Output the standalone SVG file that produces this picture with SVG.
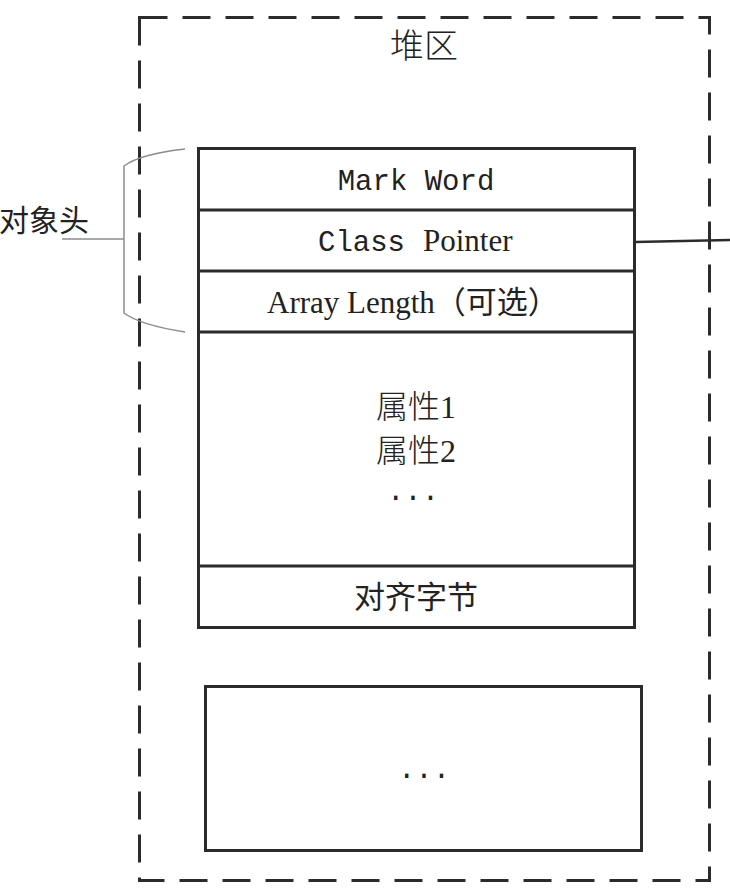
<svg xmlns="http://www.w3.org/2000/svg" width="730" height="896" viewBox="0 0 730 896">
<style>
.box{fill:#fff;stroke:#2b2b2b;stroke-width:3}
.div{stroke:#2b2b2b;stroke-width:3}
.heap{fill:none;stroke:#2b2b2b;stroke-width:3;stroke-dasharray:28 15}
.brace{fill:none;stroke:#8c8c8c;stroke-width:1.5}
.t{fill:#222;text-anchor:middle}
.mono{font-family:"Liberation Mono","Noto Sans CJK SC",monospace;font-size:29px}
.serif{font-family:"Liberation Serif","Noto Sans CJK SC",serif;font-size:31px}
.cjk{font-family:"Noto Sans CJK SC",sans-serif;font-size:31px}
.cjkl{font-family:"Liberation Serif","Noto Sans CJK SC",serif;font-size:32px;font-weight:300}
</style>
<rect width="730" height="896" fill="#fff"/>
<g id="heap">
<rect class="heap" x="139.5" y="17.5" width="570" height="863"/>
<text class="t cjkl" x="424" y="58" style="font-size:34px">堆区</text>
</g>
<g id="object">
<rect class="box" x="198.5" y="148.5" width="436" height="479"/>
<line class="div" x1="198" y1="210" x2="635" y2="210"/>
<line class="div" x1="198" y1="271" x2="635" y2="271"/>
<line class="div" x1="198" y1="332" x2="635" y2="332"/>
<line class="div" x1="198" y1="566" x2="635" y2="566"/>
</g>
<g id="mark-word"><text class="t mono" x="416" y="190">Mark Word</text></g>
<g id="class-pointer"><text x="318" y="251" style="fill:#222"><tspan class="mono">Class</tspan><tspan class="serif" x="423">Pointer</tspan></text></g>
<g id="array-length"><text class="serif" x="267" y="313" style="fill:#222">Array Length（可选）</text></g>
<g id="fields">
<text class="t cjkl" x="416" y="418">属性1</text>
<text class="t cjkl" x="416" y="462">属性2</text>
<text class="t mono" x="413" y="500">...</text>
</g>
<g id="padding"><text class="t cjk" x="416" y="608">对齐字节</text></g>
<g id="other-object">
<rect class="box" x="205.5" y="686.5" width="436" height="164"/>
<text class="t mono" x="424" y="778">...</text>
</g>
<g id="object-header-label">
<text class="cjk" x="-1" y="231" style="fill:#222;font-size:30px">对象头</text>
</g>
<g id="connectors">
<path class="brace" d="M185 149 Q140 154 124 166 L124 313 Q140 325 185 332"/>
<line class="brace" x1="62" y1="239" x2="124" y2="239"/>
<line class="div" x1="635" y1="242" x2="730" y2="240" style="stroke-width:2.5"/>
</g>
</svg>
